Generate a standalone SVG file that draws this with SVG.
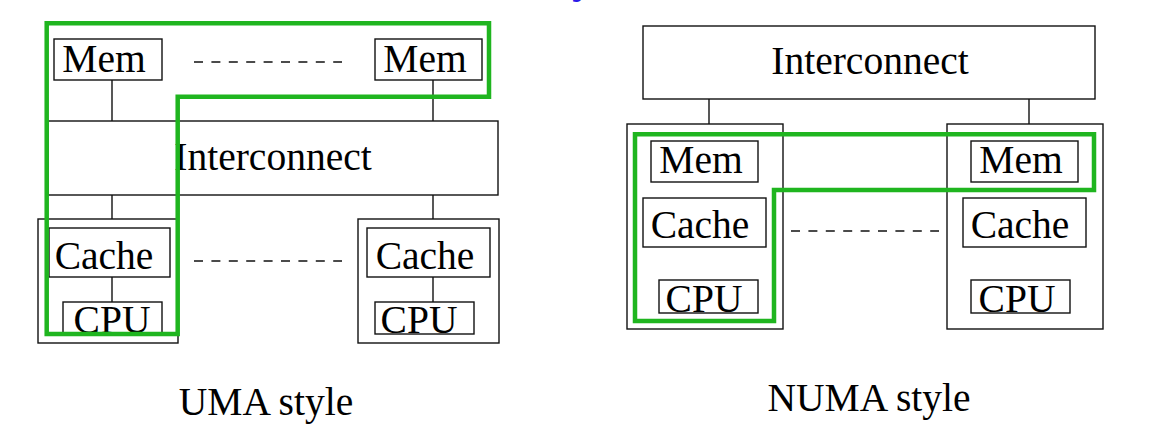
<svg xmlns="http://www.w3.org/2000/svg" width="1156" height="442" viewBox="0 0 1156 442">
<style>
.box{fill:none;stroke:#111;stroke-width:1.4}
.ln{fill:none;stroke:#111;stroke-width:1.4}
.dash{fill:none;stroke:#111;stroke-width:1.4;stroke-dasharray:9 8.4}
.grn{fill:none;stroke:#1fb51f;stroke-width:4.5;stroke-linejoin:miter}
text{font-family:"Liberation Serif","Times New Roman",serif;font-size:39.5px;fill:#000;text-anchor:middle}
</style>
<rect width="1156" height="442" fill="#fff"/>
<text x="572" y="-7" style="font-size:44px;fill:#2a1ae8;font-weight:bold;text-anchor:start">y</text>

<g id="connectors">
  <line class="ln" x1="112" y1="80" x2="112" y2="121"/>
  <line class="ln" x1="433" y1="80" x2="433" y2="121"/>
  <line class="ln" x1="112" y1="195" x2="112" y2="219"/>
  <line class="ln" x1="433" y1="195" x2="433" y2="219"/>
  <line class="ln" x1="112" y1="277" x2="112" y2="302"/>
  <line class="ln" x1="433" y1="277" x2="433" y2="302"/>
  <line class="dash" x1="194" y1="62" x2="342" y2="62"/>
  <line class="dash" x1="194" y1="261" x2="342" y2="261"/>
  <line class="ln" x1="709" y1="99" x2="709" y2="124"/>
  <line class="ln" x1="1029" y1="99" x2="1029" y2="124"/>
  <line class="dash" x1="791" y1="231" x2="939" y2="231"/>
</g>

<g id="uma">
  <g id="uma-mem1"><rect class="box" x="54" y="39" width="108" height="41"/><text x="104" y="72">Mem</text></g>
  <g id="uma-mem2"><rect class="box" x="375" y="39" width="107" height="41"/><text x="425" y="72">Mem</text></g>
  <g id="uma-interconnect"><rect class="box" x="48" y="121" width="450" height="74"/><text x="273" y="170">Interconnect</text></g>
  <g id="uma-node1">
    <rect class="box" x="38" y="219" width="140" height="124"/>
    <rect class="box" x="49" y="228" width="121" height="49"/><text x="104" y="269">Cache</text>
    <rect class="box" x="63" y="302" width="99" height="32"/><text x="112" y="333">CPU</text>
  </g>
  <g id="uma-node2">
    <rect class="box" x="358" y="219" width="141" height="124"/>
    <rect class="box" x="367" y="228" width="123" height="49"/><text x="425" y="269">Cache</text>
    <rect class="box" x="375" y="302" width="99" height="32"/><text x="419" y="333">CPU</text>
  </g>
  <path id="uma-highlight" class="grn" d="M46.7,23.3 H489 V96.7 H177.7 V334 H46.7 Z"/>
  <text id="uma-label" x="266" y="415">UMA style</text>
</g>

<g id="numa">
  <g id="numa-interconnect"><rect class="box" x="643" y="26" width="452" height="73"/><text x="870" y="74">Interconnect</text></g>
  <g id="numa-node1">
    <rect class="box" x="627" y="124" width="156" height="205"/>
    <rect class="box" x="651" y="141" width="107" height="41"/><text x="701" y="173">Mem</text>
    <rect class="box" x="643" y="198" width="123" height="49"/><text x="700" y="238">Cache</text>
    <rect class="box" x="659" y="280" width="99" height="33"/><text x="704" y="312">CPU</text>
  </g>
  <g id="numa-node2">
    <rect class="box" x="947" y="124" width="156" height="205"/>
    <rect class="box" x="971" y="141" width="107" height="41"/><text x="1021" y="173">Mem</text>
    <rect class="box" x="963" y="198" width="123" height="49"/><text x="1020" y="238">Cache</text>
    <rect class="box" x="971" y="280" width="99" height="33"/><text x="1017" y="312">CPU</text>
  </g>
  <path id="numa-highlight" class="grn" d="M635,134.3 H1094 V190 H774 V321 H635 Z"/>
  <text id="numa-label" x="869" y="411">NUMA style</text>
</g>
</svg>
